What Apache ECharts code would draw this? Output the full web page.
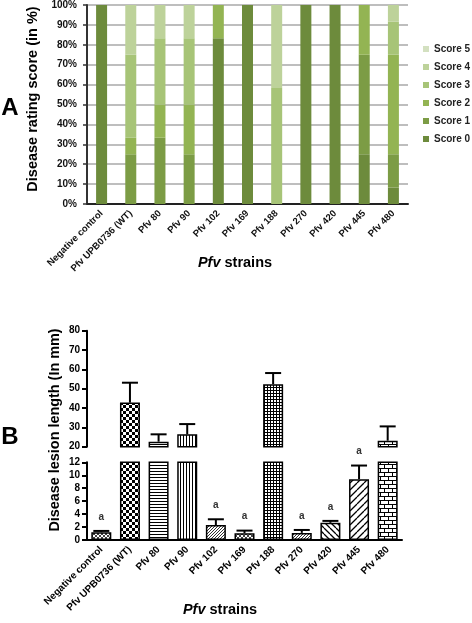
<!DOCTYPE html>
<html><head><meta charset="utf-8">
<script src="https://cdn.jsdelivr.net/npm/echarts@6/dist/echarts.min.js"></script>
<style>html,body{margin:0;padding:0;background:#fff}#c{width:472px;height:623px}</style>
</head><body><div id="c"></div>
<script>
const categories = ['Negative control','Pfv UPB0736 (WT)','Pfv 80','Pfv 90','Pfv 102','Pfv 169','Pfv 188','Pfv 270','Pfv 420','Pfv 445','Pfv 480'];
const scoreNames = ['Score 0','Score 1','Score 2','Score 3','Score 4','Score 5'];
const score0 = [100, 0, 0, 0, 83.3, 100, 0, 100, 100, 25, 8.3];
const score1 = [0, 25, 33.3, 25, 0, 0, 0, 0, 0, 50, 16.7];
const score2 = [0, 8.3, 16.7, 25, 16.7, 0, 0, 0, 0, 25, 50];
const score3 = [0, 41.7, 33.3, 33.3, 0, 0, 58.3, 0, 0, 0, 16.7];
const score4 = [0, 25, 16.7, 16.7, 0, 0, 41.7, 0, 0, 0, 8.3];
const score5 = [0, 0, 0, 0, 0, 0, 0, 0, 0, 0, 0];
const lesionMean = [1.2, 42.8, 22.6, 26.4, 2.3, 1.05, 52.3, 1.1, 2.65, 9.4, 23.1];
const lesionSD = [0.2, 10.3, 3.8, 5.3, 0.9, 0.4, 5.8, 0.45, 0.3, 2.1, 7.4];
const sigLetters = ['a','','','','a','a','','a','a','a',''];

const scoreColors = ['#6d8b3c','#7c9c45','#93b453','#a7c477','#bdd29a','#d3e0c0'];
const scoreData = [score0, score1, score2, score3, score4, score5];

function tile(w, h, draw) {
  const c = document.createElement('canvas');
  c.width = w; c.height = h;
  const g = c.getContext('2d');
  g.fillStyle = '#fff'; g.fillRect(0, 0, w, h);
  g.strokeStyle = '#000'; g.fillStyle = '#000'; g.lineWidth = 1;
  draw(g, w, h);
  return { image: c, repeat: 'repeat' };
}
function diag(g, s, dir) {
  g.beginPath();
  for (let k = -1; k <= 1; k++) {
    if (dir > 0) { g.moveTo(k * s, s); g.lineTo(k * s + s, 0); }
    else { g.moveTo(k * s, 0); g.lineTo(k * s + s, s); }
  }
  g.stroke();
}
const patterns = [
  tile(4, 4, (g, w) => { g.strokeStyle = '#444'; diag(g, w, 1); diag(g, w, -1); }),
  tile(6, 6, (g) => { g.fillRect(0, 0, 3, 3); g.fillRect(3, 3, 3, 3); }),
  tile(3, 3, (g) => { g.fillRect(0, 0, 3, 1); }),
  tile(3, 3, (g) => { g.fillRect(0, 0, 1, 3); }),
  tile(3, 3, (g, w) => { g.strokeStyle = '#333'; diag(g, w, 1); }),
  tile(4, 4, (g, w) => { g.strokeStyle = '#444'; diag(g, w, 1); diag(g, w, -1); }),
  tile(3, 3, (g) => { g.fillRect(0, 0, 3, 1); g.fillRect(0, 0, 1, 3); }),
  tile(3, 3, (g, w) => { g.strokeStyle = '#333'; diag(g, w, 1); }),
  tile(6, 6, (g, w) => { g.lineWidth = 1.3; diag(g, w, -1); }),
  tile(7, 7, (g, w) => { g.lineWidth = 1.3; diag(g, w, 1); }),
  tile(8, 8, (g) => { g.fillRect(0, 0, 8, 1); g.fillRect(0, 4, 8, 1); g.fillRect(0, 0, 1, 4); g.fillRect(4, 4, 1, 4); })
];

const F = 'Liberation Sans, Arial, sans-serif';
const chart = echarts.init(document.getElementById('c'), null, { renderer: 'canvas' });

const seriesA = scoreNames.map((n, k) => ({
  name: n, type: 'bar', stack: 'A', xAxisIndex: 0, yAxisIndex: 0,
  barWidth: 11, data: scoreData[k], itemStyle: { color: scoreColors[k] }
}));

const barTop = lesionMean.map((v, i) => v >= 20 ? { value: v, itemStyle: { color: patterns[i] } } : '-');
const barBot = lesionMean.map((v, i) => ({ value: v, itemStyle: { color: patterns[i] } }));
const errTop = [], errBot = [], sigData = [];
lesionMean.forEach((v, i) => {
  (v >= 20 ? errTop : errBot).push([i, v, v + lesionSD[i]]);
  if (sigLetters[i]) sigData.push([i, v + lesionSD[i], sigLetters[i]]);
});
function errRender(params, api) {
  const p1 = api.coord([api.value(0), api.value(1)]);
  const p2 = api.coord([api.value(0), api.value(2)]);
  return { type: 'group', children: [
    { type: 'line', shape: { x1: p1[0], y1: p1[1], x2: p2[0], y2: p2[1] }, style: { stroke: '#000', lineWidth: 2 } },
    { type: 'line', shape: { x1: p2[0] - 8, y1: p2[1], x2: p2[0] + 8, y2: p2[1] }, style: { stroke: '#000', lineWidth: 2 } }
  ]};
}

const yAxisB = (idx, min, max, interval) => ({
  type: 'value', gridIndex: idx, min, max, interval,
  axisLine: { show: true, lineStyle: { color: '#000', width: 2 } },
  axisTick: { show: true, length: 5, lineStyle: { color: '#000', width: 2 } },
  axisLabel: { color: '#000', fontFamily: F, fontWeight: 'bold', fontSize: 10, margin: 7 },
  splitLine: { show: false }
});

chart.setOption({
  animation: false,
  textStyle: { fontFamily: F },
  grid: [
    { left: 87, top: 5, width: 321, height: 199 },
    { left: 87, top: 330.7, width: 315, height: 116 },
    { left: 87, top: 462.3, width: 315, height: 77.7 }
  ],
  legend: {
    data: scoreNames.slice().reverse(), orient: 'vertical', left: 423, top: 43, padding: 0,
    itemWidth: 6, itemHeight: 6, itemGap: 6, icon: 'rect',
    textStyle: { fontFamily: F, fontSize: 10, fontWeight: 'bold', color: '#222', lineHeight: 12 }
  },
  xAxis: [
    { type: 'category', gridIndex: 0, data: categories,
      axisLine: { lineStyle: { color: '#222', width: 2 } },
      axisTick: { length: 4, lineStyle: { color: '#222', width: 1.5 } },
      axisLabel: { rotate: 45, interval: 0, margin: 8, color: '#111', fontFamily: F, fontWeight: 'bold', fontSize: 9.5 } },
    { type: 'category', gridIndex: 1, data: categories, show: false },
    { type: 'category', gridIndex: 2, data: categories,
      axisLine: { lineStyle: { color: '#000', width: 2 } },
      axisTick: { length: 4, alignWithLabel: true, lineStyle: { color: '#000', width: 2 } },
      axisLabel: { rotate: 45, interval: 0, margin: 8, color: '#000', fontFamily: F, fontWeight: 'bold', fontSize: 10 } }
  ],
  yAxis: [
    { type: 'value', gridIndex: 0, min: 0, max: 100, interval: 10,
      axisLine: { show: true, lineStyle: { color: '#333', width: 2 } },
      axisTick: { show: true, length: 4, lineStyle: { color: '#333', width: 1.5 } },
      axisLabel: { formatter: '{value}%', color: '#111', fontFamily: F, fontWeight: 'bold', fontSize: 10, margin: 10 },
      splitLine: { lineStyle: { color: '#a8a8a8', width: 1.5 } } },
    yAxisB(1, 20, 80, 10),
    yAxisB(2, 0, 12, 2)
  ],
  series: seriesA.concat([
    { type: 'bar', xAxisIndex: 1, yAxisIndex: 1, barWidth: 20, data: barTop,
      itemStyle: { borderColor: '#000', borderWidth: 1.5 } },
    { type: 'bar', xAxisIndex: 2, yAxisIndex: 2, barWidth: 20, data: barBot,
      itemStyle: { borderColor: '#000', borderWidth: 1.5 } },
    { type: 'custom', xAxisIndex: 1, yAxisIndex: 1, data: errTop, renderItem: errRender, z: 5 },
    { type: 'custom', xAxisIndex: 2, yAxisIndex: 2, data: errBot, renderItem: errRender, z: 5 },
    { type: 'custom', xAxisIndex: 2, yAxisIndex: 2, data: sigData, z: 5,
      renderItem: (params, api) => {
        const p = api.coord([api.value(0), api.value(1)]);
        return { type: 'text', x: p[0], y: p[1] - 14,
          style: { text: sigData[params.dataIndex][2], textAlign: 'center', textVerticalAlign: 'middle',
            font: 'bold 10px ' + F, fill: '#333' } };
      } }
  ]),
  graphic: [
    { type: 'text', x: 10, y: 108, style: { text: 'A', font: 'bold 24px ' + F, fill: '#000', textAlign: 'center', textVerticalAlign: 'middle' } },
    { type: 'text', x: 10, y: 437, style: { text: 'B', font: 'bold 24px ' + F, fill: '#000', textAlign: 'center', textVerticalAlign: 'middle' } },
    { type: 'text', x: 33, y: 99, rotation: Math.PI / 2, style: { text: 'Disease rating score (in %)', font: 'bold 14.5px ' + F, fill: '#000', textAlign: 'center', textVerticalAlign: 'middle' } },
    { type: 'text', x: 55, y: 430, rotation: Math.PI / 2, style: { text: 'Disease lesion length (In mm)', font: 'bold 14.4px ' + F, fill: '#000', textAlign: 'center', textVerticalAlign: 'middle' } },
    { type: 'text', x: 235, y: 263, style: { text: '{i|Pfv} strains', font: 'bold 14.5px ' + F, fill: '#000', textAlign: 'center', textVerticalAlign: 'middle',
      rich: { i: { fontStyle: 'italic', fontWeight: 'bold', fontSize: 14.5, fontFamily: F } } } },
    { type: 'text', x: 220, y: 610, style: { text: '{i|Pfv} strains', font: 'bold 14.5px ' + F, fill: '#000', textAlign: 'center', textVerticalAlign: 'middle',
      rich: { i: { fontStyle: 'italic', fontWeight: 'bold', fontSize: 14.5, fontFamily: F } } } }
  ]
});
</script></body></html>
